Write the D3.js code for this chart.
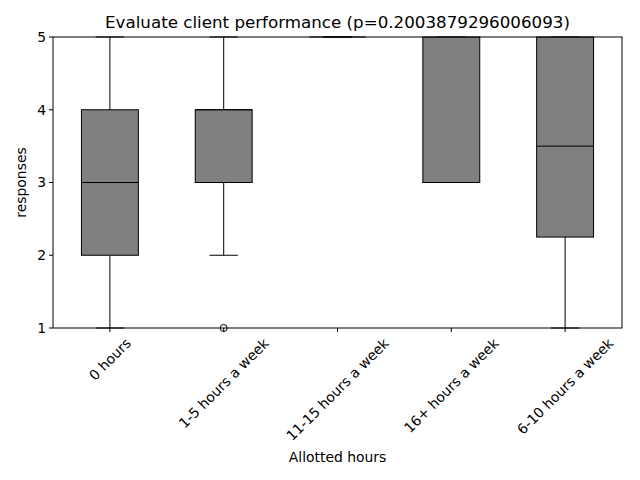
<!DOCTYPE html>
<html><head><meta charset="utf-8">
<script src="https://d3js.org/d3.v7.min.js"></script>
<style>body{margin:0;background:#fff}text{font-family:"DejaVu Sans",sans-serif;fill:#000}</style>
</head><body>
<svg id="c" width="640" height="480"></svg>
<script>
// box statistics
const categories = ['0 hours','1-5 hours a week','11-15 hours a week','16+ hours a week','6-10 hours a week'];
const whiskLo = [1, 2, 5, 3, 1];
const q1      = [2, 3, 5, 3, 2.25];
const medians = [3, 4, 5, 3, 3.5];
const q3      = [4, 4, 5, 5, 5];
const whiskHi = [5, 5, 5, 5, 5];
const outliers = [[], [1], [], [], []];
const yTicks = [1, 2, 3, 4, 5];

const svg = d3.select('#c');
const L = 53, R = 622, T = 37, B = 328;
const x = d3.scaleBand().domain(categories).range([L, R]);
const y = d3.scaleLinear().domain([1, 5]).range([B, T]);
const bw = x.step() * 0.5;

const g = svg.append('g');
categories.forEach((c, i) => {
  const cx = x(c) + x.bandwidth() / 2;
  const ln = (x1, y1, x2, y2) => g.append('line').attr('x1', x1).attr('y1', y1).attr('x2', x2).attr('y2', y2)
    .attr('stroke', '#000').attr('stroke-width', 1);
  ln(cx, y(whiskLo[i]), cx, y(q1[i]));
  ln(cx, y(q3[i]), cx, y(whiskHi[i]));
  ln(cx - bw / 4, y(whiskLo[i]), cx + bw / 4, y(whiskLo[i]));
  ln(cx - bw / 4, y(whiskHi[i]), cx + bw / 4, y(whiskHi[i]));
  g.append('rect').attr('x', cx - bw / 2).attr('width', bw)
    .attr('y', y(q3[i])).attr('height', Math.max(0, y(q1[i]) - y(q3[i])))
    .attr('fill', '#808080').attr('stroke', '#000');
  ln(cx - bw / 2, y(medians[i]), cx + bw / 2, y(medians[i]));
  outliers[i].forEach(v => g.append('circle').attr('cx', cx).attr('cy', y(v)).attr('r', 3.5)
    .attr('fill', 'none').attr('stroke', '#000'));
});

// frame
svg.append('rect').attr('x', L).attr('y', T).attr('width', R - L).attr('height', B - T)
  .attr('fill', 'none').attr('stroke', '#000').attr('stroke-width', 1);

// y axis
yTicks.forEach(t => {
  svg.append('line').attr('x1', L - 4).attr('x2', L).attr('y1', y(t)).attr('y2', y(t)).attr('stroke', '#000');
  svg.append('text').attr('x', L - 7).attr('y', y(t)).attr('dy', '0.35em').attr('text-anchor', 'end')
    .attr('font-size', 13.9).text(t);
});

// x axis, rotated labels
categories.forEach(c => {
  const cx = x(c) + x.bandwidth() / 2;
  svg.append('line').attr('x1', cx).attr('x2', cx).attr('y1', B).attr('y2', B + 4).attr('stroke', '#000');
  const t = svg.append('text').attr('font-size', 13.9).attr('text-anchor', 'middle')
    .attr('dominant-baseline', 'central').text(c);
  const w = t.node().getComputedTextLength();
  const h = 16;
  const cy = B + 7 + (w + h) * Math.SQRT1_2 / 2;
  t.attr('transform', `translate(${cx},${cy}) rotate(-45)`);
});

svg.append('text').attr('x', (L + R) / 2).attr('y', 462).attr('text-anchor', 'middle')
  .attr('font-size', 13.9).text('Allotted hours');
svg.append('text').attr('transform', `translate(26,${(T + B) / 2}) rotate(-90)`).attr('text-anchor', 'middle')
  .attr('font-size', 13.9).text('responses');
svg.append('text').attr('x', (L + R) / 2).attr('y', 28).attr('text-anchor', 'middle')
  .attr('font-size', 16.7).text('Evaluate client performance (p=0.2003879296006093)');
</script>
</body></html>
